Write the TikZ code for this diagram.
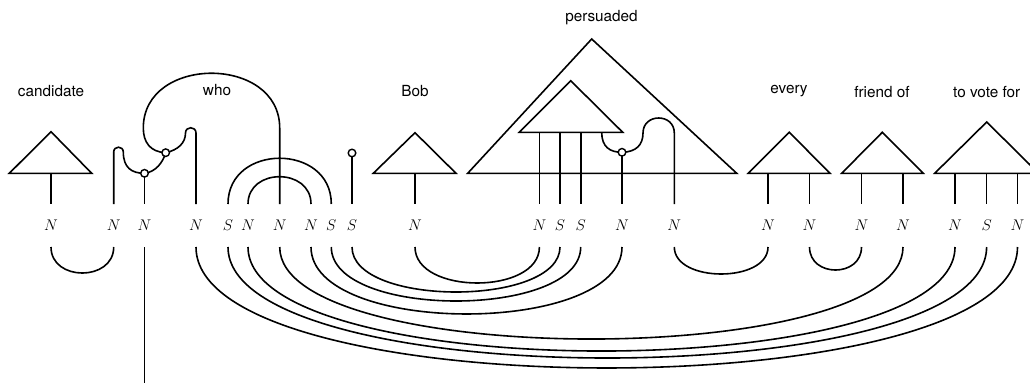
\documentclass[tikz,border=0pt]{standalone}
\usepackage{fontspec}
\setmainfont{TeX Gyre Heros}
\begin{document}
\begin{tikzpicture}[x=1pt,y=-1pt,line width=1.6pt,line join=miter,
  word/.style={font=\fontsize{15.3}{18}\selectfont,anchor=base,inner sep=0pt},
  typ/.style={font=\fontsize{14.4}{17}\selectfont,anchor=base,inner sep=0pt,scale=1.07},
  dot/.style={circle,draw,fill=white,minimum size=7.6pt,inner sep=0pt,line width=1.4pt}]
\clip (0,0) rectangle (1030,383);
% wire positions
\foreach \n/\x in {1/51,2/113.7,3/144.5,4/196,5/228,6/248,7/279.7,8/311,9/331.3,10/352,11/415,12/539.4,13/560,14/580.7,15/622,16/674.3,17/768,18/809.5,19/861.5,20/903,21/955,22/986.6,23/1017.5}{
  \coordinate (u\n) at (\x,204);
  \coordinate (d\n) at (\x,247);
}
% type labels
\foreach \n/\t in {1/N,2/N,3/N,4/N,5/S,6/N,7/N,8/N,9/S,10/S,11/N,12/N,13/S,14/S,15/N,16/N,17/N,18/N,19/N,20/N,21/N,22/S,23/N}{
  \path (u\n) ++(0,26) node[typ] (t\n) {$\t$};
}
% word labels
\node[word] (wcand) at (51,96) {candidate};
\node[word] (wwho) at (217,95.7) {who};
\node[word] (wbob) at (415,96) {Bob};
\node[word] (wpers) at (601.5,21.5) {persuaded};
\node[word] (wevery) at (789,93.5) {every};
\node[word] (wfriend) at (882,97) {friend of};
\node[word] (wvote) at (986.7,97) {to vote for};
% candidate
\draw (51,131.7) -- (91.7,173.3) -- (9.3,173.3) -- cycle;
\draw (51,173.3) -- (u1);
% who
\coordinate (c1) at (144.5,173.3);
\coordinate (c2) at (165.7,152.7);
\draw (u2) -- (113.7,152) .. controls (113.7,145.6) and (123.3,145.6) .. (123.3,152)
  .. controls (123.3,168) and (132,173.3) .. (c1)
  .. controls (156,172) and (163,162) .. (c2)
  .. controls (178,150) and (185.5,143) .. (185.5,133)
  .. controls (185.5,126) and (196,126) .. (196,133) -- (u4);
\draw (c2) .. controls (150,152) and (143.3,142) .. (143.3,128)
  .. controls (143.3,55) and (279.7,55) .. (279.7,128) -- (u7);
\draw (c1) -- (u3);
\draw (u5) .. controls (228,143) and (331.3,143) .. (u9);
\draw (u6) .. controls (248,167.6) and (311,167.6) .. (u8);
\node[dot] (k1) at (c1) {};
\node[dot] (k2) at (c2) {};
\coordinate (c4) at (352,153);
\draw (c4) -- (u10);
\node[dot] (k4) at (c4) {};
% Bob
\draw (415,132.7) -- (456,173.3) -- (373.3,173.3) -- cycle;
\draw (415,173.3) -- (u11);
% persuaded
\draw (591.7,39) -- (736.7,173.3) -- (467.7,173.3) -- cycle;
\draw (570.7,80.7) -- (622.7,132.3) -- (519.3,132.3) -- cycle;
\draw (539.4,132.3) -- (u12);
\draw (560,132.3) -- (u13);
\draw (580.7,132.3) -- (u14);
\coordinate (c3) at (622,152.3);
\draw (601.7,132.3) .. controls (601.7,147) and (610,152.3) .. (c3)
  .. controls (636,152) and (643,145) .. (643,133)
  .. controls (643,113) and (674.3,113) .. (674.3,133) -- (u16);
\draw (c3) -- (u15);
\node[dot] (k3) at (c3) {};
% every
\draw (789.3,132.3) -- (830,173.3) -- (748.3,173.3) -- cycle;
\draw (768,173.3) -- (u17);
\draw (809.5,173.3) -- (u18);
% friend of
\draw (882.3,132.3) -- (923.3,173.3) -- (841.7,173.3) -- cycle;
\draw (861.5,173.3) -- (u19);
\draw (903,173.3) -- (u20);
% to vote for
\draw (986.7,122) -- (1038.5,173.3) -- (934.7,173.3) -- cycle;
\draw (955,173.3) -- (u21);
\draw (986.6,173.3) -- (u22);
\draw (1017.5,173.3) -- (u23);
% cups
\coordinate (e3) at (144.5,383);
\draw (d3) -- (e3);
\draw (d1) .. controls (51,281.7) and (113.7,281.7) .. (d2);
\draw (d16) .. controls (674.3,283) and (768,283) .. (d17);
\draw (d18) .. controls (809.5,277.7) and (861.5,277.7) .. (d19);
\draw (d11) .. controls (415,295) and (539.4,295) .. (d12);
\draw (d10) .. controls (352,307) and (560,307) .. (d13);
\draw (d9) .. controls (331.3,319) and (580.7,319) .. (d14);
\draw (d8) .. controls (311,336.3) and (622,336.3) .. (d15);
\draw (d7) .. controls (279.7,369.7) and (903,369.7) .. (d20);
\draw (d6) .. controls (248,385.7) and (955,385.7) .. (d21);
\draw (d5) .. controls (228,395) and (986.6,395) .. (d22);
\draw (d4) .. controls (196,408.3) and (1017.5,408.3) .. (d23);
\end{tikzpicture}
\end{document}
